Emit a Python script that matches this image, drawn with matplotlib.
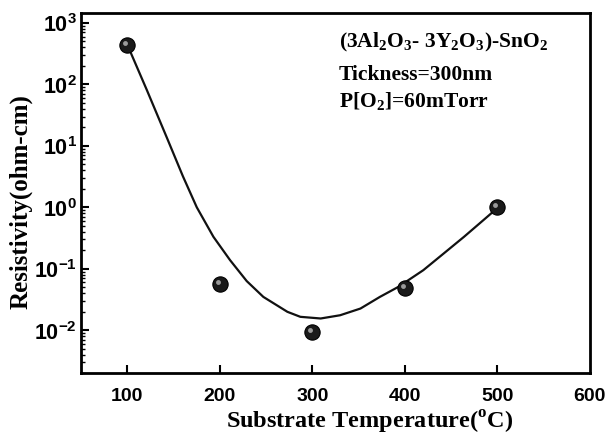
import matplotlib
matplotlib.use("Agg")
import matplotlib.pyplot as plt
import matplotlib.transforms as mtransforms

plt.rcParams['mathtext.fontset'] = 'custom'
plt.rcParams['mathtext.bf'] = 'Liberation Sans:bold'
plt.rcParams['mathtext.rm'] = 'Liberation Serif:bold'

# measured points
temp = [100, 200, 300, 400, 500]
resist = [440, 0.056, 0.0094, 0.048, 1.0]

# smooth guide line
fit_x = [100, 121, 143, 160, 175, 193, 211, 229, 247, 273, 287, 309, 330, 352, 373, 393,
         420, 442, 464, 485, 500]
fit_y = [438, 81, 13.2, 3.2, 1.0, 0.331, 0.138, 0.063, 0.0348, 0.0199, 0.0165, 0.0155,
         0.0175, 0.0225, 0.0348, 0.0507, 0.0948, 0.177, 0.331, 0.619, 0.97]

xticks = [100, 200, 300, 400, 500, 600]
yticks = [1e-2, 1e-1, 1e0, 1e1, 1e2, 1e3]
ytick_labels = [r'$\mathbf{10}^{\mathbf{-2}}$', r'$\mathbf{10}^{\mathbf{-1}}$', r'$\mathbf{10}^{\mathbf{0}}$',
                r'$\mathbf{10}^{\mathbf{1}}$', r'$\mathbf{10}^{\mathbf{2}}$', r'$\mathbf{10}^{\mathbf{3}}$']

fig = plt.figure(figsize=(6.15, 4.37), dpi=100)
ax = fig.add_axes([0.132, 0.146, 0.827, 0.824])

ax.plot(fit_x, fit_y, color='#111111', lw=1.6, zorder=2, solid_joinstyle='round')
ax.plot(temp, resist, 'o', ms=11, mfc='#1a1a1a', mec='#000000', mew=0.8, zorder=3)
# little highlight on the balls
hl = mtransforms.offset_copy(ax.transData, fig=fig, x=-1.5, y=1.5, units='points')
ax.plot(temp, resist, 'o', ms=3.5, mfc='#bbbbbb', mec='none', alpha=0.8, transform=hl, zorder=4)

ax.set_yscale('log')
ax.set_xlim(50, 600)
ax.set_ylim(10**-2.7, 10**3.16)

ax.set_xticks(xticks)
ax.set_xticklabels([str(t) for t in xticks], fontfamily='Liberation Sans', fontweight='bold', fontsize=14)
ax.set_yticks(yticks)
ax.set_yticklabels(ytick_labels, fontsize=15.5)

ax.tick_params(axis='both', which='major', direction='in', length=6, width=1.5)
ax.tick_params(axis='x', which='major', pad=11)
ax.tick_params(axis='y', which='major', pad=3)
ax.tick_params(axis='y', which='minor', direction='in', length=3, width=1)
ax.tick_params(top=False, right=False, which='both')
ax.xaxis.get_major_ticks()[-1].tick1line.set_visible(False)
for s in ax.spines.values():
    s.set_linewidth(2)

ax.set_xlabel(r'Substrate Temperature($^\mathrm{o}$C)', fontfamily='Liberation Serif',
              fontweight='bold', fontsize=17.5)
ax.xaxis.set_label_coords(0.567, -0.1)
ax.set_ylabel('Resistivity(ohm-cm)', fontfamily='Liberation Serif', fontweight='bold',
              fontsize=18)
ax.yaxis.set_label_coords(-0.096, 0.478)

txt = dict(fontfamily='Liberation Serif', fontweight='bold', fontsize=15.5, transform=ax.transAxes,
           va='center')
ax.text(0.507, 0.919, r'(3Al$_\mathrm{2}$O$_\mathrm{3}$- 3Y$_\mathrm{2}$O$_\mathrm{3}$)-SnO$_\mathrm{2}$', **txt)
ax.text(0.507, 0.828, 'Tickness=300nm', **txt)
ax.text(0.507, 0.753, r'P[O$_\mathrm{2}$]=60mTorr', **txt)

fig.savefig('out.png', dpi=100)
